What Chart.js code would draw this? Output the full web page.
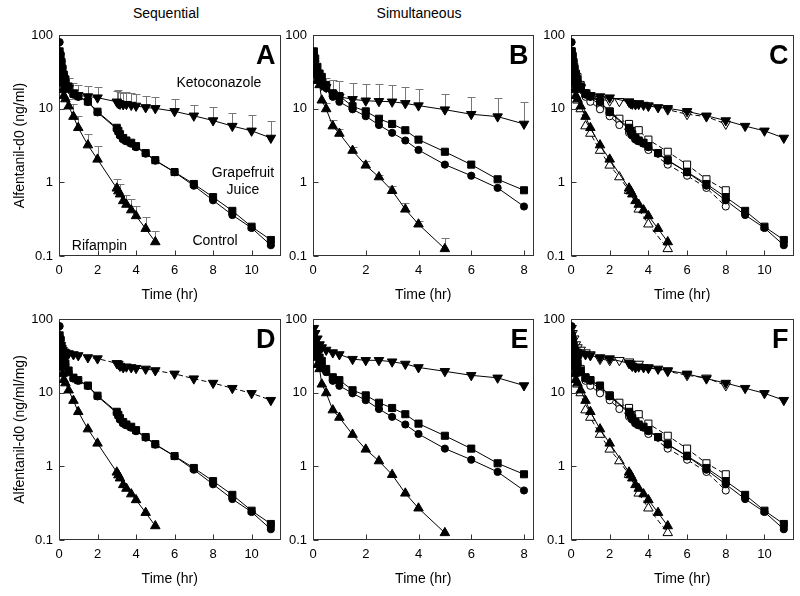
<!DOCTYPE html>
<html lang="en">
<head>
<meta charset="UTF-8" />
<title>Alfentanil-d0</title>
<script src="https://cdn.jsdelivr.net/npm/chart.js"></script>
<style>
  body { margin: 0; background: #fff; overflow: hidden; }
  #wrap { position: relative; width: 800px; height: 596px; font-family: Arial, "Liberation Sans", sans-serif; }
  .head { position: absolute; top: 5px; font-size: 14px; line-height: 16px; transform: translateX(-50%); white-space: nowrap; }
  .panel { position: absolute; }
</style>
</head>
<body>
<div id="wrap">
  <div class="head" style="left:166px">Sequential</div>
  <div class="head" style="left:419px">Simultaneous</div>
</div>
<script>
// sampling times (hr)
const T_SEQ = [0.033, 0.083, 0.133, 0.183, 0.25, 0.333, 0.5, 0.75, 1, 1.5,
  2, 3, 3.083, 3.167, 3.333, 3.5, 3.75, 4, 4.5, 5,
  6, 7, 8, 9, 10, 11];
const T_SIM = [0.033, 0.083, 0.167, 0.25, 0.333, 0.5, 0.75, 1, 1.5, 2, 2.5, 3, 3.5, 4, 5, 6, 7, 8];

// sequential (A, D)
const SEQ_CONTROL = [80, 55, 44, 36, 29, 24, 19, 15.5, 14.5, 12.3,
  8.9, 5.3, 4.8, 4.3, 3.8, 3.6, 3.35, 3.0, 2.45, 1.97,
  1.37, 0.9, 0.57, 0.36, 0.24, 0.14];
const SEQ_GFJ = [60, 52, 43, 35, 29, 25, 20, 16, 14.8, 12.5,
  9.1, 5.5, 5.0, 4.5, 4.0, 3.7, 3.45, 3.1, 2.5, 2.0,
  1.38, 0.95, 0.63, 0.41, 0.25, 0.165];
const SEQ_KETO = [35, 30, 27, 24, 22, 20.5, 19, 16.5, 15.2, 14.6,
  14.1, 12.4, 11.8, 11.6, 11.4, 11.5, 11.2, 10.9, 10.4, 10.1,
  9.2, 8.0, 6.9, 5.8, 5.0, 4.0];
const SEQ_KETO_SD = [null, null, null, null, null, null, 26, 22, 21, 20.4,
  19.5, 17.5, 17.9, 17, 16.5, 17, 16.5, 15.6, 14.8, 14.2,
  13.4, 11.2, 10.4, 8.8, 8.2, 6.8];
const SEQ_RIF = [30, 25, 22, 18, 15, 13.5, 10.8, 7.8, 5.5, 3.2,
  2.05, 0.83, 0.76, 0.69, 0.56, 0.5, 0.42, 0.35, 0.235, 0.155,
  null, null, null, null, null, null];
const SEQ_RIF_SD = [null, null, null, null, null, null, 13.4, 11.5, 8, 4.5,
  3.1, 1.1, null, 0.95, null, 0.68, 0.6, 0.48, 0.34, 0.22,
  null, null, null, null, null, null];
const SEQ_KETO_NORM = [48, 44, 40, 38, 36, 35, 34, 33, 32, 30,
  29, 25, 24.5, 23, 22, 22.5, 22, 21.5, 21, 20,
  18, 15.5, 13.5, 11.5, 9.8, 7.9];

// simultaneous (B, E)
const SIM_CONTROL = [56, 44, 33, 27, 24, 19, 14.5, 12.4, 9.8, 7.9, 6.0, 4.7, 3.7, 2.75, 1.74, 1.23, 0.84, 0.47];
const SIM_GFJ = [60, 48, 37, 30, 27, 21, 16.2, 14.8, 10.8, 9.2, 7.3, 6.2, 5.1, 3.8, 2.6, 1.74, 1.1, 0.78];
const SIM_KETO = [37, 31, 26, 23, 21, 19.5, 15.8, 14.5, 13.4, 12.8, 12.6, 12.4, 11.8, 11.0, 9.7, 8.4, 7.8, 6.2];
const SIM_KETO_SD = [null, null, null, null, null, 26, 24.5, 23.7, 22, 21.5, 21.5, 20.7, 19.8, 18.3, 16, 14.4, 13.8, 12.3];
const SIM_RIF = [36, 30, 24, 21, 13, 9.9, 5.8, 4.6, 2.7, 1.7, 1.18, 0.77, 0.43, 0.27, 0.125, null, null, null];
const SIM_RIF_SD = [null, null, null, null, null, 12, 7.0, 5.3, 3.0, 1.95, 1.25, 0.9, 0.52, 0.3, 0.175, null, null, null];
const SIM_KETO_NORM = [75, 64, 54, 45, 41, 38, 35, 33, 28.5, 27.5, 27.5, 26.3, 24.5, 22, 19.5, 17.2, 15.9, 12.5];

const Y_TICKS = [0.1, 1, 10, 100];
const X_TICKS_LONG = [0, 2, 4, 6, 8, 10];
const X_TICKS_SHORT = [0, 2, 4, 6, 8];

// layout (px)
const COL_L = [59, 313, 571];
const COL_R = [283, 536, 796];
const ROW_T = [35, 319];
const ROW_B = [256, 540];
const YW = 59, PAD_T = 35, PAD_R = 4, XH = 48;

const MARKERS = {
  circle: { style: "circle", r: 3.6, rot: 0 },
  square: { style: "rect", r: 5, rot: 0 },
  up: { style: "triangle", r: 5.5, rot: 0 },
  down: { style: "triangle", r: 5.5, rot: 180 },
};

Chart.defaults.font.family = 'Arial, "Liberation Sans", sans-serif';
Chart.defaults.color = "#000";

function series(xs, ys, marker, open, dashed, err) {
  var pts = [];
  var hi = [];
  xs.forEach(function (x, i) {
    if (ys[i] == null) return;
    pts.push({ x: x, y: ys[i] });
    hi.push(err ? err[i] : null);
  });
  var m = MARKERS[marker];
  return {
    data: pts,
    errHi: err ? hi : null,
    showLine: true,
    borderColor: "#000",
    borderWidth: 1,
    borderDash: dashed ? [5, 3] : [],
    pointStyle: m.style,
    pointRotation: m.rot,
    pointRadius: m.r,
    pointHoverRadius: m.r,
    pointBackgroundColor: open ? "#fff" : "#000",
    pointBorderColor: "#000",
    pointBorderWidth: 1,
  };
}

// frame, inward ticks, error bars, panel letter and notes
const panelDeco = {
  id: "panelDeco",
  beforeDatasetsDraw(chart, args, opts) {
    const ctx = chart.ctx;
    const a = chart.chartArea;
    const x = chart.scales.x, y = chart.scales.y;
    const L = Math.round(a.left) + 0.5, R = Math.round(a.right) - 0.5;
    const T = Math.round(a.top) + 0.5, B = Math.round(a.bottom) - 0.5;
    ctx.save();
    ctx.strokeStyle = "#333";
    ctx.lineWidth = 1;
    ctx.strokeRect(L, T, R - L, B - T);
    ctx.beginPath();
    opts.xTicks.forEach(function (v) {
      if (v === 0) return;
      const px = Math.round(x.getPixelForValue(v)) + 0.5;
      ctx.moveTo(px, B);
      ctx.lineTo(px, B - 5);
    });
    Y_TICKS.forEach(function (v) {
      const py = Math.round(y.getPixelForValue(v)) + 0.5;
      ctx.moveTo(L, py);
      ctx.lineTo(L + 5, py);
    });
    ctx.stroke();

    ctx.strokeStyle = "#777";
    ctx.beginPath();
    chart.data.datasets.forEach(function (ds) {
      if (!ds.errHi) return;
      ds.data.forEach(function (p, i) {
        const h = ds.errHi[i];
        if (h == null) return;
        const px = Math.round(x.getPixelForValue(p.x)) + 0.5;
        const py = y.getPixelForValue(p.y);
        const ph = Math.round(y.getPixelForValue(h)) + 0.5;
        ctx.moveTo(px, py);
        ctx.lineTo(px, ph);
        ctx.moveTo(px - 4, ph);
        ctx.lineTo(px + 4, ph);
      });
    });
    ctx.stroke();
    ctx.restore();
  },
  afterDatasetsDraw(chart, args, opts) {
    const ctx = chart.ctx;
    const a = chart.chartArea;
    const x = chart.scales.x, y = chart.scales.y;
    ctx.save();
    ctx.fillStyle = "#000";
    ctx.textBaseline = "middle";
    ctx.textAlign = "right";
    ctx.font = 'bold 27px Arial, "Liberation Sans", sans-serif';
    ctx.fillText(opts.letter, a.right - 5, a.top + 22);
    ctx.textAlign = "center";
    ctx.font = '14px Arial, "Liberation Sans", sans-serif';
    (opts.notes || []).forEach(function (n) {
      ctx.fillText(n.text, x.getPixelForValue(n.x), y.getPixelForValue(n.y));
    });
    ctx.restore();
  },
};
Chart.register(panelDeco);

function makePanel(col, row, xmax, xTicks, letter, yTitle, datasets, notes) {
  const left = COL_L[col] - YW;
  const top = ROW_T[row] - PAD_T;
  const width = COL_R[col] - COL_L[col] + YW + PAD_R;
  const height = ROW_B[row] - ROW_T[row] + PAD_T + XH;
  const box = document.createElement("div");
  box.className = "panel";
  box.style.left = left + "px";
  box.style.top = top + "px";
  const canvas = document.createElement("canvas");
  canvas.width = width;
  canvas.height = height;
  box.appendChild(canvas);
  document.getElementById("wrap").appendChild(box);

  return new Chart(canvas.getContext("2d"), {
    type: "scatter",
    data: { datasets: datasets },
    options: {
      responsive: false,
      animation: false,
      events: [],
      layout: { padding: { top: PAD_T, right: PAD_R, left: 0, bottom: 0 } },
      scales: {
        x: {
          type: "linear",
          min: 0,
          max: xmax,
          afterBuildTicks: function (s) {
            s.ticks = xTicks.map(function (v) { return { value: v }; });
          },
          afterFit: function (s) { s.height = XH; },
          ticks: { autoSkip: false, maxRotation: 0, padding: 7, font: { size: 13 } },
          grid: { display: false, drawTicks: false },
          border: { display: false },
          title: { display: true, text: "Time (hr)", font: { size: 14 }, padding: 0 },
        },
        y: {
          type: "logarithmic",
          min: 0.1,
          max: 100,
          afterBuildTicks: function (s) {
            s.ticks = Y_TICKS.map(function (v) { return { value: v }; });
          },
          afterFit: function (s) { s.width = YW; },
          ticks: {
            autoSkip: false,
            padding: 6,
            font: { size: 13 },
            callback: function (v) { return String(v); },
          },
          grid: { display: false, drawTicks: false },
          border: { display: false },
          title: {
            display: !!yTitle,
            text: yTitle || "",
            font: { size: 14 },
            padding: { top: 12, bottom: 0 },
          },
        },
      },
      plugins: {
        legend: { display: false },
        tooltip: { enabled: false },
        panelDeco: { letter: letter, notes: notes, xTicks: xTicks },
      },
    },
  });
}

// A: sequential, ng/ml
makePanel(0, 0, 11.5, X_TICKS_LONG, "A", "Alfentanil-d0 (ng/ml)", [
  series(T_SEQ, SEQ_CONTROL, "circle", false, false),
  series(T_SEQ, SEQ_GFJ, "square", false, false),
  series(T_SEQ, SEQ_KETO, "down", false, false, SEQ_KETO_SD),
  series(T_SEQ, SEQ_RIF, "up", false, false, SEQ_RIF_SD),
], [
  { text: "Ketoconazole", x: 8.3, y: 22.3 },
  { text: "Grapefruit", x: 9.55, y: 1.34 },
  { text: "Juice", x: 9.55, y: 0.79 },
  { text: "Control", x: 8.1, y: 0.16 },
  { text: "Rifampin", x: 2.1, y: 0.137 },
]);

// B: simultaneous, ng/ml
makePanel(1, 0, 8.36, X_TICKS_SHORT, "B", null, [
  series(T_SIM, SIM_CONTROL, "circle", false, false),
  series(T_SIM, SIM_GFJ, "square", false, false),
  series(T_SIM, SIM_KETO, "down", false, false, SIM_KETO_SD),
  series(T_SIM, SIM_RIF, "up", false, false, SIM_RIF_SD),
], []);

// C: A (filled) over B (open, dashed)
makePanel(2, 0, 11.5, X_TICKS_LONG, "C", null, [
  series(T_SEQ, SEQ_CONTROL, "circle", false, false),
  series(T_SEQ, SEQ_GFJ, "square", false, false),
  series(T_SEQ, SEQ_KETO, "down", false, false),
  series(T_SEQ, SEQ_RIF, "up", false, false),
  series(T_SIM, SIM_CONTROL, "circle", true, true),
  series(T_SIM, SIM_GFJ, "square", true, true),
  series(T_SIM, SIM_KETO, "down", true, true),
  series(T_SIM, SIM_RIF, "up", true, true),
], []);

// D: sequential, ng/ml/mg
makePanel(0, 1, 11.5, X_TICKS_LONG, "D", "Alfentanil-d0 (ng/ml/mg)", [
  series(T_SEQ, SEQ_CONTROL, "circle", false, false),
  series(T_SEQ, SEQ_GFJ, "square", false, false),
  series(T_SEQ, SEQ_KETO_NORM, "down", false, true),
  series(T_SEQ, SEQ_RIF, "up", false, false),
], []);

// E: simultaneous, ng/ml/mg
makePanel(1, 1, 8.36, X_TICKS_SHORT, "E", null, [
  series(T_SIM, SIM_CONTROL, "circle", false, false),
  series(T_SIM, SIM_GFJ, "square", false, false),
  series(T_SIM, SIM_KETO_NORM, "down", false, false),
  series(T_SIM, SIM_RIF, "up", false, false),
], []);

// F: D (filled) over E (open, dashed)
makePanel(2, 1, 11.5, X_TICKS_LONG, "F", null, [
  series(T_SEQ, SEQ_CONTROL, "circle", false, false),
  series(T_SEQ, SEQ_GFJ, "square", false, false),
  series(T_SEQ, SEQ_KETO_NORM, "down", false, false),
  series(T_SEQ, SEQ_RIF, "up", false, false),
  series(T_SIM, SIM_CONTROL, "circle", true, true),
  series(T_SIM, SIM_GFJ, "square", true, true),
  series(T_SIM, SIM_KETO_NORM, "down", true, true),
  series(T_SIM, SIM_RIF, "up", true, true),
], []);
</script>
</body>
</html>
